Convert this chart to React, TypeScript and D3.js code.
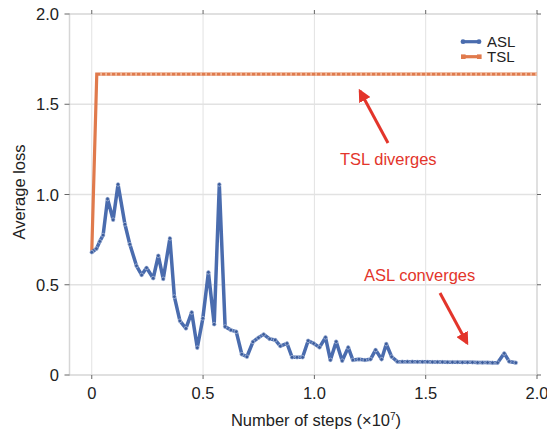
import React from 'react';
import * as d3 from 'd3';

// ASL curve (steps in units of 1e7)
const ASL_STEPS = [
  0, 0.021, 0.036, 0.051, 0.071, 0.096, 0.118, 0.149, 0.171, 0.201,
  0.224, 0.246, 0.276, 0.299, 0.321, 0.351, 0.371, 0.396, 0.423, 0.449,
  0.474, 0.499, 0.524, 0.55, 0.573, 0.599, 0.625, 0.649, 0.674, 0.697,
  0.724, 0.749, 0.772, 0.799, 0.824, 0.847, 0.877, 0.9, 0.922, 0.947,
  0.972, 0.997, 1.023, 1.05, 1.072, 1.098, 1.125, 1.152, 1.173, 1.2,
  1.227, 1.252, 1.275, 1.302, 1.323, 1.347, 1.373, 1.395, 1.418, 1.44,
  1.463, 1.485, 1.508, 1.53, 1.553, 1.575, 1.598, 1.62, 1.643, 1.665,
  1.688, 1.71, 1.733, 1.755, 1.778, 1.8, 1.823, 1.853, 1.875, 1.905,
];
const ASL_LOSS = [
  0.68, 0.7, 0.74, 0.775, 0.975, 0.86, 1.056, 0.835, 0.724, 0.605,
  0.554, 0.594, 0.536, 0.661, 0.532, 0.757, 0.434, 0.3, 0.258, 0.347,
  0.151, 0.314, 0.569, 0.281, 1.056, 0.268, 0.249, 0.24, 0.115, 0.101,
  0.184, 0.207, 0.225, 0.2, 0.194, 0.16, 0.175, 0.098, 0.098, 0.098,
  0.19, 0.175, 0.153, 0.209, 0.083, 0.185, 0.079, 0.153, 0.083, 0.087,
  0.083, 0.087, 0.139, 0.087, 0.172, 0.101, 0.074, 0.074, 0.074, 0.074,
  0.073, 0.073, 0.073, 0.072, 0.072, 0.072, 0.071, 0.071, 0.071, 0.07,
  0.07, 0.07, 0.069, 0.069, 0.069, 0.068, 0.068, 0.12, 0.075, 0.068,
];

// TSL jumps once and then stays flat
const TSL_STEPS = [0, 0.0225, 2.0];
const TSL_LOSS = [0.68, 1.667, 1.667];

const X_TICKS = [0, 0.5, 1.0, 1.5, 2.0];
const X_TICK_LABELS = ['0', '0.5', '1.0', '1.5', '2.0'];
const Y_TICKS = [0, 0.5, 1.0, 1.5, 2.0];
const Y_TICK_LABELS = ['0', '0.5', '1.0', '1.5', '2.0'];

const LEGEND = ['ASL', 'TSL'];

const BLUE = '#4a6cae';
const ORANGE = '#e07a4c';
const RED = '#e3352b';
const FONT = '"Liberation Sans", Arial, Helvetica, sans-serif';

export default function App() {
  const width = 547;
  const height = 431;

  // plot frame
  const left = 69.5;
  const right = 537;
  const top = 14;
  const bottom = 375;

  const x = d3.scaleLinear().domain([-0.1, 2.0]).range([left, right]);
  const y = d3.scaleLinear().domain([0, 2.0]).range([bottom, top]);

  const aslPts = ASL_STEPS.map((s, i) => [s, ASL_LOSS[i]] as [number, number]);
  const tslPts = TSL_STEPS.map((s, i) => [s, TSL_LOSS[i]] as [number, number]);

  const line = d3.line<[number, number]>().x(d => x(d[0])).y(d => y(d[1]));

  const gridColor = '#e2e2e2';
  const frameColor = '#d6d6d6';
  const tickColor = '#666';

  return (
    <svg width={width} height={height} style={{ position: 'absolute', left: 0, top: 0, background: '#fff' }} fontFamily={FONT}>
      <defs>
        <marker id="arrowhead" viewBox="0 0 10 10" refX="8" refY="5" markerWidth="4.3" markerHeight="4.3" orient="auto">
          <path d="M0,0 L10,5 L0,10 z" fill={RED} />
        </marker>
      </defs>

      {/* grid */}
      {X_TICKS.slice(0, -1).map((t, i) => (
        <line key={'gx' + i} x1={x(t)} x2={x(t)} y1={top} y2={bottom} stroke={gridColor} strokeWidth={1} />
      ))}
      {Y_TICKS.slice(1, -1).map((t, i) => (
        <line key={'gy' + i} x1={left} x2={right} y1={y(t)} y2={y(t)} stroke={gridColor} strokeWidth={1.5} />
      ))}

      {/* frame */}
      <rect x={left} y={top} width={right - left} height={bottom - top} fill="none" stroke={frameColor} strokeWidth={1.5} />

      {/* ticks on all four sides */}
      {X_TICKS.map((t, i) => (
        <g key={'tx' + i}>
          <line x1={x(t)} x2={x(t)} y1={bottom} y2={bottom + 4} stroke={tickColor} strokeWidth={1} />
          <line x1={x(t)} x2={x(t)} y1={top} y2={top - 4} stroke={tickColor} strokeWidth={1} />
          <text x={x(t)} y={399} textAnchor="middle" fontSize={16.5} fill="#222">{X_TICK_LABELS[i]}</text>
        </g>
      ))}
      {Y_TICKS.map((t, i) => (
        <g key={'ty' + i}>
          <line x1={left - 5} x2={left} y1={y(t)} y2={y(t)} stroke={tickColor} strokeWidth={1} />
          <line x1={right} x2={right + 4} y1={y(t)} y2={y(t)} stroke={tickColor} strokeWidth={1} />
          <text x={59} y={y(t) + 6} textAnchor="end" fontSize={16.5} fill="#222">{Y_TICK_LABELS[i]}</text>
        </g>
      ))}

      {/* axis titles */}
      <text x={316} y={426} textAnchor="middle" fontSize={16.5} fill="#222">
        Number of steps (×10<tspan fontSize={10} dy={-6}>7</tspan><tspan dy={6}>)</tspan>
      </text>
      <text transform={`translate(25, 192) rotate(-90)`} textAnchor="middle" fontSize={16.5} fill="#222">
        Average loss
      </text>

      {/* TSL */}
      <path d={line(tslPts) || ''} fill="none" stroke={ORANGE} strokeWidth={3.2} />
      <line x1={x(TSL_STEPS[1])} x2={x(TSL_STEPS[2])} y1={y(TSL_LOSS[1])} y2={y(TSL_LOSS[2])}
        stroke="#f4cbb3" strokeWidth={3.4} strokeDasharray="1.4,3.6" strokeDashoffset={-3.6} />

      {/* ASL */}
      <path d={line(aslPts) || ''} fill="none" stroke={BLUE} strokeWidth={3.5} strokeLinejoin="round" />
      {aslPts.map((d, i) => (
        <circle key={'a' + i} cx={x(d[0])} cy={y(d[1])} r={1.9} fill="#3b5c9c" stroke="#c9d4ea" strokeWidth={0.6} />
      ))}

      {/* legend */}
      {LEGEND.map((name, i) => {
        const ly = 41.7 + i * 15;
        const col = i === 0 ? BLUE : ORANGE;
        return (
          <g key={'lg' + i}>
            <line x1={463} x2={479} y1={ly} y2={ly} stroke={col} strokeWidth={3.2} />
            {i === 0 ? (
              <g>
                <circle cx={463} cy={ly} r={2.4} fill={col} />
                <circle cx={479} cy={ly} r={2.4} fill={col} />
              </g>
            ) : (
              <g>
                <rect x={461} y={ly - 2.3} width={4.6} height={4.6} fill={col} />
                <rect x={477} y={ly - 2.3} width={4.6} height={4.6} fill={col} />
              </g>
            )}
            <text x={487} y={ly + 5.5} fontSize={15} fill="#222">{name}</text>
          </g>
        );
      })}

      {/* annotations */}
      <line x1={388} y1={143} x2={360} y2={91} stroke={RED} strokeWidth={3} markerEnd="url(#arrowhead)" />
      <text x={340} y={165} fontSize={16.5} fill={RED}>TSL diverges</text>

      <line x1={440} y1={293} x2={467} y2={343} stroke={RED} strokeWidth={3} markerEnd="url(#arrowhead)" />
      <text x={364} y={281} fontSize={16.5} fill={RED}>ASL converges</text>
    </svg>
  );
}
